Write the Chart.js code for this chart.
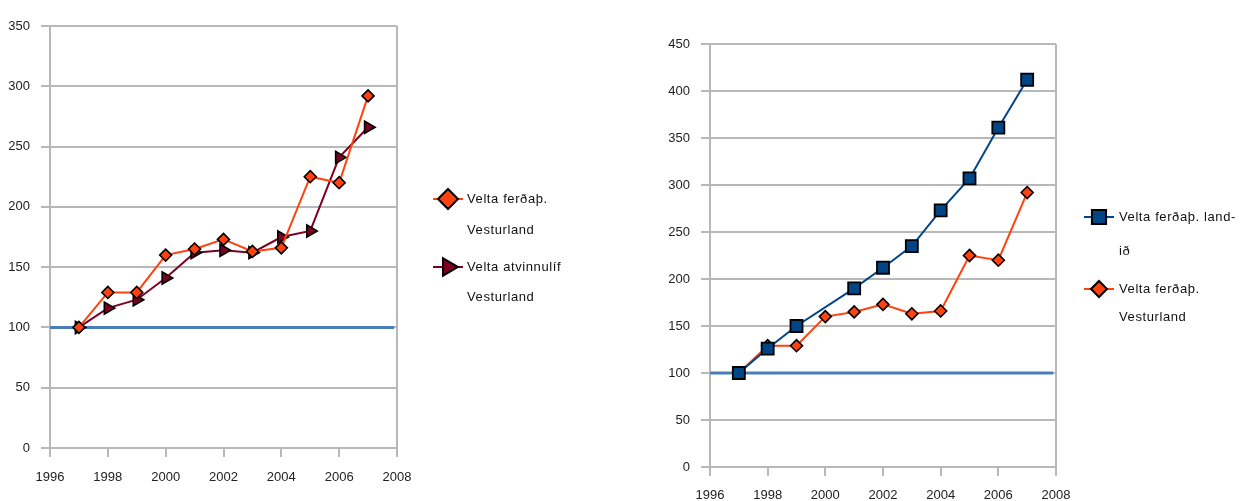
<!DOCTYPE html>
<html lang="is">
<head>
<meta charset="UTF-8">
<title>Velta ferðaþjónustu</title>
<script src="https://cdn.jsdelivr.net/npm/chart.js"></script>
<style>
    body {
        margin: 0;
        background: #ffffff;
    }
    .wrap {
        position: relative;
        width: 1244px;
        height: 501px;
    }
    .panel {
        position: absolute;
        top: 0;
        width: 622px;
        height: 501px;
    }
    #leftPanel { left: 0; }
    #rightPanel { left: 622px; }
</style>
</head>
<body>
<div class="wrap">
    <div class="panel" id="leftPanel"><canvas id="leftChart" width="622" height="501"></canvas></div>
    <div class="panel" id="rightPanel"><canvas id="rightChart" width="622" height="501"></canvas></div>
</div>

<script>
    // Values (index, 1997 = 100)
    const years = [1997, 1998, 1999, 2000, 2001, 2002, 2003, 2004, 2005, 2006, 2007];
    const vesturland = [100, 129, 129, 160, 165, 173, 163, 166, 225, 220, 292];   // Velta ferðaþ. Vesturland
    const atvinnulif = [100, 116, 123, 141, 162, 164, 162, 175, 180, 241, 266];   // Velta atvinnulíf Vesturland
    const landid = [100, 126, 150, null, 190, 212, 235, 273, 307, 361, 412];      // Velta ferðaþ. landið
    const refYears = [1995.9, 2007.9];
    const refValues = [100, 100];

    const leftLegend = [['Velta ferðaþ.', 'Vesturland'], ['Velta atvinnulíf', 'Vesturland']];
    const rightLegend = [['Velta ferðaþ. land-', 'ið'], ['Velta ferðaþ.', 'Vesturland']];

    const FONT = "'Liberation Sans', Arial, sans-serif";
    const GRID = '#b8b8b8';

    function toPoints(xs, ys) {
        return xs.map((x, i) => ({ x: x, y: ys[i] }));
    }

    const orangeSet = (radius) => ({
        data: toPoints(years, vesturland),
        borderColor: '#ff420e',
        borderWidth: 2,
        pointStyle: 'rectRot',
        pointRadius: radius,
        pointBackgroundColor: '#ff420e',
        pointBorderColor: '#000000',
        pointBorderWidth: 1.6
    });

    const refSet = {
        data: toPoints(refYears, refValues),
        borderColor: '#4a7ebb',
        borderWidth: 3,
        pointRadius: 0
    };

    // draws the legend at the right side of each chart
    const sideLegend = {
        id: 'sideLegend',
        afterDraw(chart, args, opts) {
            const ctx = chart.ctx;
            opts.items.forEach(item => {
                const ds = chart.data.datasets[item.index];
                ctx.save();
                ctx.strokeStyle = ds.borderColor;
                ctx.lineWidth = 2;
                ctx.beginPath();
                ctx.moveTo(item.mx - 15, item.y);
                ctx.lineTo(item.mx + 15, item.y);
                ctx.stroke();
                ctx.fillStyle = ds.pointBackgroundColor;
                ctx.strokeStyle = ds.pointBorderColor;
                ctx.lineWidth = 2;
                Chart.helpers.drawPoint(ctx, {
                    pointStyle: ds.pointStyle,
                    rotation: ds.pointRotation || 0,
                    radius: item.r,
                    borderWidth: 2
                }, item.mx, item.y);
                ctx.fillStyle = '#111111';
                ctx.font = '13px ' + FONT;
                ctx.letterSpacing = '0.6px';
                ctx.textBaseline = 'middle';
                ctx.textAlign = 'left';
                item.text.forEach((line, k) => {
                    ctx.fillText(line, item.tx, item.y + k * item.gap);
                });
                ctx.restore();
            });
        }
    };

    function makeScales(yMax, yWidth, xHeight, xPad) {
        return {
            x: {
                type: 'linear',
                min: 1996,
                max: 2008,
                afterFit: s => { s.height = xHeight; },
                border: { display: false },
                grid: {
                    color: c => (c.tick && (c.tick.value === 1996 || c.tick.value === 2008)) ? GRID : 'rgba(0,0,0,0)',
                    tickColor: GRID,
                    lineWidth: 2,
                    tickLength: 9
                },
                ticks: {
                    stepSize: 2,
                    padding: xPad,
                    color: '#222222',
                    font: { family: FONT, size: 13 },
                    callback: v => String(v)
                }
            },
            y: {
                min: 0,
                max: yMax,
                afterFit: s => { s.width = yWidth; },
                border: { display: false },
                grid: {
                    color: GRID,
                    lineWidth: 2,
                    tickLength: 9
                },
                ticks: {
                    stepSize: 50,
                    padding: 11,
                    color: '#222222',
                    font: { family: FONT, size: 13 }
                }
            }
        };
    }

    const baseOptions = {
        responsive: false,
        animation: false,
        plugins: {
            legend: { display: false },
            tooltip: { enabled: false }
        }
    };

    // Left chart: Vesturland, tourism vs. all business
    new Chart(document.getElementById('leftChart'), {
        type: 'line',
        data: {
            datasets: [
                orangeSet(6),
                {
                    data: toPoints(years, atvinnulif),
                    borderColor: '#7e0021',
                    borderWidth: 2,
                    pointStyle: 'triangle',
                    pointRotation: 90,
                    pointRadius: 7,
                    pointBackgroundColor: '#7e0021',
                    pointBorderColor: '#000000',
                    pointBorderWidth: 1.6
                },
                refSet
            ]
        },
        options: {
            ...baseOptions,
            layout: { padding: { top: 26, right: 225, left: 0, bottom: 0 } },
            scales: makeScales(350, 50, 53, 13),
            plugins: {
                ...baseOptions.plugins,
                sideLegend: {
                    items: [
                        { index: 0, mx: 448, tx: 467, y: 199, gap: 31, r: 10, text: leftLegend[0] },
                        { index: 1, mx: 448, tx: 467, y: 267, gap: 30, r: 10, text: leftLegend[1] }
                    ]
                }
            }
        },
        plugins: [sideLegend]
    });

    // Right chart: Vesturland tourism vs. whole country
    new Chart(document.getElementById('rightChart'), {
        type: 'line',
        data: {
            datasets: [
                {
                    data: toPoints(years, landid),
                    spanGaps: true,
                    borderColor: '#004586',
                    borderWidth: 2,
                    pointStyle: 'rect',
                    pointRadius: 8.5,
                    pointBackgroundColor: '#004586',
                    pointBorderColor: '#000000',
                    pointBorderWidth: 1.8
                },
                orangeSet(6),
                refSet
            ]
        },
        options: {
            ...baseOptions,
            layout: { padding: { top: 44, right: 188, left: 0, bottom: 0 } },
            scales: makeScales(450, 88, 34, 12),
            plugins: {
                ...baseOptions.plugins,
                sideLegend: {
                    items: [
                        { index: 0, mx: 477, tx: 497, y: 217, gap: 34, r: 10, text: rightLegend[0] },
                        { index: 1, mx: 477, tx: 497, y: 289, gap: 28, r: 8, text: rightLegend[1] }
                    ]
                }
            }
        },
        plugins: [sideLegend]
    });
</script>
</body>
</html>
